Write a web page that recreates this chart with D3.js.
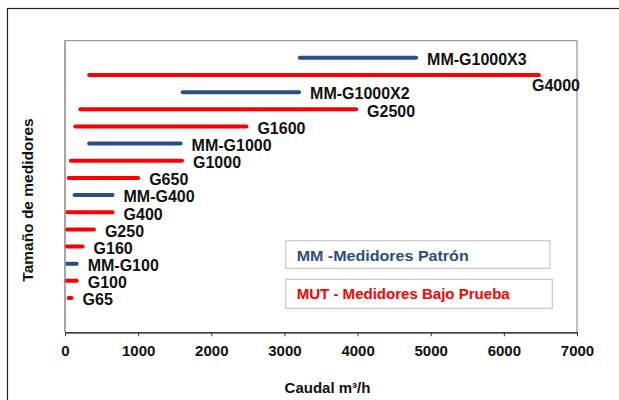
<!DOCTYPE html>
<html>
<head>
<meta charset="utf-8">
<script src="https://cdn.jsdelivr.net/npm/d3@7"></script>
<style>
  html, body { margin: 0; padding: 0; background: #fff; }
  svg { display: block; }
  text { font-family: "Liberation Sans", Arial, sans-serif; }
</style>
</head>
<body>
<svg id="chart" width="619" height="400"></svg>
<script>
// ---- data ----
const labels = ["G65","G100","MM-G100","G160","G250","G400","MM-G400","G650","G1000","MM-G1000","G1600","G2500","MM-G1000X2","G4000","MM-G1000X3"];
const rowValues = [2,3,4,5,6,7,8,9,10,11,12,13,14,15,16];
const flowMin = [50,10,25,16,20,32,130,50,80,330,140,210,1610,330,3210];
const flowMax = [90,160,160,240,395,650,650,1000,1600,1580,2480,3980,3200,6480,4800];
const kind = ["MUT","MUT","MM","MUT","MUT","MUT","MM","MUT","MUT","MM","MUT","MUT","MM","MUT","MM"];
const xTicks = [0,1000,2000,3000,4000,5000,6000,7000];
const legendTexts = ["MM -Medidores  Patrón", "MUT - Medidores Bajo Prueba"];
const xTitle = "Caudal m³/h";
const yTitle = "Tamaño de medidores";

const colors = { MM: "#2b4f80", MUT: "#ff0000" };
const legendColors = ["#2a5083", "#ff0000"];

const svg = d3.select("#chart");
const W = 619, H = 400;
const plot = { left: 65, right: 577, top: 40.7, bottom: 332.3 };

const x = d3.scaleLinear().domain([0, 7000]).range([plot.left, plot.right]);
const y = d3.scaleLinear().domain([0, 17]).range([plot.bottom, plot.top]);

// outer frame
svg.append("rect").attr("x", 7.5).attr("y", 8.5).attr("width", W).attr("height", H)
  .attr("fill", "none").attr("stroke", "#222").attr("stroke-width", 1.2);

// plot border (gray) top, left, right
svg.append("path")
  .attr("d", `M${plot.left},${plot.bottom}V${plot.top}H${plot.right}V${plot.bottom}`)
  .attr("fill", "none").attr("stroke", "#9a9a9a").attr("stroke-width", 1.3);

// x axis
const xAxis = d3.axisBottom(x).tickValues(xTicks).tickSize(4).tickSizeOuter(0).tickPadding(9)
  .tickFormat(d3.format("d"));
const gx = svg.append("g").attr("transform", `translate(0,${plot.bottom})`).call(xAxis);
gx.select(".domain").attr("stroke", "#000").attr("stroke-width", 1.2);
gx.selectAll(".tick line").attr("stroke", "#333");
gx.selectAll(".tick text").attr("font-family", "Liberation Sans, Arial, sans-serif")
  .attr("font-size", 15).attr("font-weight", "bold").attr("fill", "#111");

// segments
const rows = labels.map((l, i) => ({ label: l, row: rowValues[i], lo: flowMin[i], hi: flowMax[i], kind: kind[i] }));

svg.append("g").selectAll("line").data(rows).join("line")
  .attr("x1", d => x(d.lo)).attr("x2", d => x(d.hi))
  .attr("y1", d => y(d.row)).attr("y2", d => y(d.row))
  .attr("stroke", d => colors[d.kind]).attr("stroke-width", 4).attr("stroke-linecap", "round");

// redraw left border over the segments
svg.append("line").attr("x1", plot.left).attr("x2", plot.left).attr("y1", plot.top).attr("y2", plot.bottom)
  .attr("stroke", "#9a9a9a").attr("stroke-width", 1.3);

// labels
svg.append("g").selectAll("text").data(rows).join("text")
  .attr("x", d => d.label === "G4000" ? x(d.hi) - 7 : x(d.hi) + 11)
  .attr("y", d => d.label === "G4000" ? y(d.row) + 15.5 : y(d.row) + 7.3)
  .attr("font-size", 16).attr("font-weight", "bold").attr("fill", "#111")
  .text(d => d.label);

// legend boxes
const legendBoxes = [
  { x: 285.7, y: 240.7, w: 264.3, h: 27.6, tx: 296.7, ty: 260.8, len: 172 },
  { x: 285.7, y: 279.3, w: 266.6, h: 29, tx: 296.7, ty: 299.4, len: 213 }
];
legendBoxes.forEach((b, i) => {
  svg.append("rect").attr("x", b.x).attr("y", b.y).attr("width", b.w).attr("height", b.h)
    .attr("fill", "#fff").attr("stroke", "#c8c8c8").attr("stroke-width", 1.2);
  svg.append("text").attr("x", b.tx).attr("y", b.ty)
    .attr("font-family", "Lato, 'Open Sans', sans-serif")
    .attr("font-size", 15).attr("font-weight", "bold").attr("fill", legendColors[i])
    .attr("textLength", b.len).attr("lengthAdjust", "spacingAndGlyphs")
    .text(legendTexts[i]);
});

// axis titles
svg.append("text").attr("x", 327.5).attr("y", 393.3).attr("text-anchor", "middle")
  .attr("font-size", 15).attr("font-weight", "bold").attr("fill", "#111").text(xTitle);
svg.append("text").attr("transform", "translate(32.7,200) rotate(-90)").attr("text-anchor", "middle")
  .attr("font-size", 15.5).attr("font-weight", "bold").attr("fill", "#111").text(yTitle);
</script>
</body>
</html>
